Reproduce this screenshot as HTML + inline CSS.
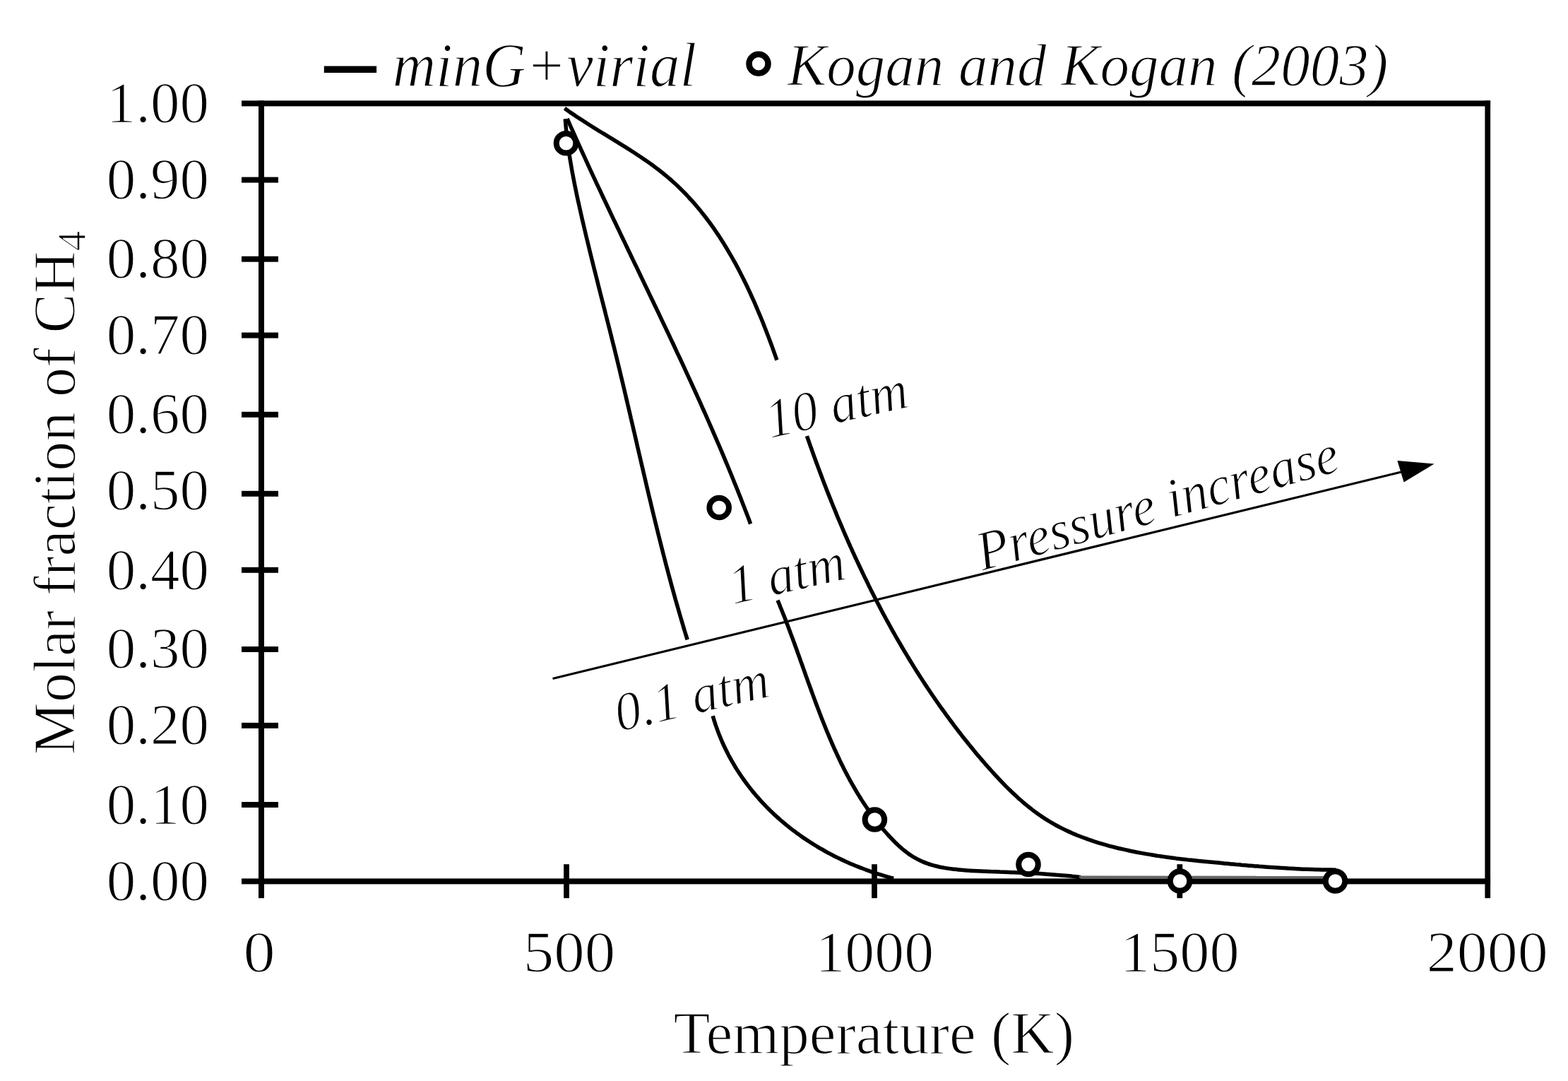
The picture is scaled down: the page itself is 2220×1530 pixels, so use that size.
<!DOCTYPE html>
<html><head><meta charset="utf-8"><title>Molar fraction of CH4 vs Temperature</title>
<style>
html,body{margin:0;padding:0;background:#fff;}
svg{display:block;}
text{font-family:"Liberation Serif","Times New Roman",serif;fill:#000;stroke:#fff;stroke-width:1.5px;}
.it{font-style:italic;stroke-width:1.4px;}
</style></head>
<body>
<svg width="2220" height="1530" viewBox="0 0 2220 1530">
<rect width="2220" height="1530" fill="#fff"/>
<g font-size="83">
<text x="296" y="172.8" text-anchor="end">1.00</text>
<text x="296" y="280.8" text-anchor="end">0.90</text>
<text x="296" y="392.5" text-anchor="end">0.80</text>
<text x="296" y="500.8" text-anchor="end">0.70</text>
<text x="296" y="612.9" text-anchor="end">0.60</text>
<text x="296" y="721.4" text-anchor="end">0.50</text>
<text x="296" y="833.5" text-anchor="end">0.40</text>
<text x="296" y="945.3" text-anchor="end">0.30</text>
<text x="296" y="1053.4" text-anchor="end">0.20</text>
<text x="296" y="1165.6" text-anchor="end">0.10</text>
<text x="296" y="1273.5" text-anchor="end">0.00</text>
<text x="367.2" y="1375" text-anchor="middle" textLength="45.2" lengthAdjust="spacingAndGlyphs">0</text>
<text x="806.0" y="1375" text-anchor="middle" textLength="130.5" lengthAdjust="spacingAndGlyphs">500</text>
<text x="1238.3" y="1375" text-anchor="middle" textLength="167.7" lengthAdjust="spacingAndGlyphs">1000</text>
<text x="1670.3" y="1375" text-anchor="middle" textLength="168.8" lengthAdjust="spacingAndGlyphs">1500</text>
<text x="2105.7" y="1375" text-anchor="middle" textLength="172.0" lengthAdjust="spacingAndGlyphs">2000</text>
</g>
<text x="953.5" y="1491" font-size="85">Temperature (K)</text>
<text font-size="85" transform="translate(106,1068.5) rotate(-90)" textLength="741.8" lengthAdjust="spacingAndGlyphs">Molar fraction of CH<tspan font-size="58" dy="15">4</tspan></text>
<text class="it" x="555.7" y="121.5" font-size="88" textLength="430.4" lengthAdjust="spacingAndGlyphs">minG+virial</text>
<text class="it" x="1115" y="121" font-size="85" textLength="850.3" lengthAdjust="spacingAndGlyphs">Kogan and Kogan (2003)</text>
<text class="it" x="0" y="0" font-size="79" textLength="204.0" lengthAdjust="spacingAndGlyphs" transform="translate(1090.5,620.5) rotate(-12.7)">10 atm</text>
<text class="it" x="0" y="0" font-size="78" textLength="166.6" lengthAdjust="spacingAndGlyphs" transform="translate(1038,855.5) rotate(-12.6)">1 atm</text>
<text class="it" x="0" y="0" font-size="77" textLength="222.6" lengthAdjust="spacingAndGlyphs" transform="translate(876.4,1035.5) rotate(-13)">0.1 atm</text>
<text class="it" x="0" y="0" font-size="79" textLength="529.1" lengthAdjust="spacingAndGlyphs" transform="translate(1390.7,808) rotate(-15.6)">Pressure increase</text>
<g fill="none" stroke="#000" stroke-width="5.5" stroke-linejoin="round" stroke-linecap="butt">
<path d="M799.4,153.3 C800.7,154.2 804.5,156.9 807.0,158.7 C809.6,160.5 812.2,162.2 814.8,164.0 C817.3,165.7 820.0,167.4 822.6,169.1 C825.2,170.9 827.8,172.6 830.5,174.2 C833.2,175.9 835.8,177.6 838.5,179.3 C841.2,180.9 843.9,182.6 846.5,184.3 C849.2,185.9 851.9,187.6 854.6,189.2 C857.3,190.9 860.0,192.5 862.7,194.2 C865.4,195.8 868.1,197.5 870.8,199.2 C873.5,200.8 876.2,202.5 878.9,204.1 C881.6,205.8 884.3,207.5 887.0,209.2 C889.7,210.9 892.4,212.6 895.0,214.3 C897.7,216.0 900.3,217.7 903.0,219.5 C905.6,221.2 908.2,222.9 910.8,224.7 C913.4,226.5 916.0,228.3 918.6,230.1 C921.1,231.9 923.7,233.8 926.2,235.6 C928.7,237.5 931.2,239.4 933.7,241.3 C936.1,243.2 938.6,245.1 941.0,247.1 C943.4,249.1 945.8,251.1 948.2,253.1 C950.5,255.2 952.8,257.2 955.1,259.3 C957.4,261.4 959.7,263.5 961.9,265.7 C964.1,267.9 966.3,270.1 968.5,272.3 C970.7,274.5 972.8,276.7 974.9,279.0 C977.1,281.3 979.1,283.6 981.2,285.9 C983.3,288.2 985.3,290.6 987.3,293.0 C989.3,295.3 991.3,297.7 993.2,300.2 C995.2,302.6 997.1,305.0 999.0,307.5 C1000.9,310.0 1002.8,312.5 1004.6,315.0 C1006.5,317.5 1008.3,320.1 1010.1,322.6 C1011.9,325.2 1013.7,327.8 1015.4,330.4 C1017.2,333.0 1018.9,335.6 1020.6,338.2 C1022.3,340.9 1024.0,343.5 1025.6,346.2 C1027.3,348.9 1028.9,351.6 1030.5,354.3 C1032.1,357.0 1033.7,359.7 1035.3,362.5 C1036.9,365.2 1038.4,368.0 1039.9,370.7 C1041.5,373.5 1043.0,376.3 1044.5,379.1 C1045.9,381.9 1047.4,384.7 1048.8,387.5 C1050.3,390.3 1051.7,393.1 1053.1,396.0 C1054.5,398.8 1055.9,401.7 1057.3,404.5 C1058.7,407.4 1060.0,410.3 1061.4,413.2 C1062.7,416.0 1064.0,418.9 1065.3,421.8 C1066.6,424.7 1067.9,427.6 1069.2,430.5 C1070.4,433.4 1071.7,436.4 1072.9,439.3 C1074.2,442.2 1075.4,445.1 1076.6,448.0 C1077.8,451.0 1079.0,453.9 1080.2,456.8 C1081.3,459.8 1082.5,462.7 1083.7,465.7 C1084.8,468.6 1085.9,471.5 1087.1,474.5 C1088.2,477.4 1089.3,480.4 1090.4,483.3 C1091.5,486.3 1092.6,489.2 1093.7,492.1 C1094.7,495.1 1095.8,498.0 1096.8,500.9 C1097.9,503.9 1099.4,508.3 1100.0,509.7"/>
<path d="M1142.4,617.1 C1142.9,618.5 1144.3,622.4 1145.2,625.0 C1146.1,627.6 1147.0,630.3 1148.0,632.9 C1148.9,635.5 1149.8,638.1 1150.8,640.8 C1151.7,643.4 1152.7,646.0 1153.6,648.6 C1154.6,651.3 1155.5,653.9 1156.5,656.5 C1157.5,659.1 1158.4,661.7 1159.4,664.3 C1160.4,667.0 1161.4,669.6 1162.4,672.2 C1163.3,674.8 1164.3,677.4 1165.3,680.0 C1166.3,682.7 1167.3,685.3 1168.4,687.9 C1169.4,690.5 1170.4,693.1 1171.4,695.7 C1172.4,698.3 1173.5,700.9 1174.5,703.5 C1175.5,706.1 1176.6,708.7 1177.6,711.3 C1178.7,713.9 1179.7,716.5 1180.8,719.1 C1181.8,721.7 1182.9,724.3 1184.0,726.9 C1185.0,729.5 1186.1,732.1 1187.2,734.7 C1188.3,737.3 1189.4,739.9 1190.5,742.4 C1191.6,745.0 1192.7,747.6 1193.8,750.2 C1194.9,752.8 1196.0,755.4 1197.1,757.9 C1198.3,760.5 1199.4,763.1 1200.5,765.7 C1201.7,768.2 1202.8,770.8 1203.9,773.4 C1205.1,775.9 1206.3,778.5 1207.4,781.1 C1208.6,783.6 1209.7,786.2 1210.9,788.7 C1212.1,791.3 1213.3,793.8 1214.5,796.4 C1215.7,798.9 1216.9,801.5 1218.1,804.0 C1219.3,806.6 1220.5,809.1 1221.7,811.6 C1222.9,814.2 1224.1,816.7 1225.4,819.2 C1226.6,821.8 1227.8,824.3 1229.1,826.8 C1230.3,829.4 1231.6,831.9 1232.8,834.4 C1234.1,836.9 1235.4,839.4 1236.6,841.9 C1237.9,844.4 1239.2,846.9 1240.5,849.5 C1241.8,852.0 1243.1,854.5 1244.4,856.9 C1245.7,859.4 1247.0,861.9 1248.3,864.4 C1249.6,866.9 1250.9,869.4 1252.3,871.9 C1253.6,874.3 1254.9,876.8 1256.3,879.3 C1257.6,881.8 1259.0,884.2 1260.4,886.7 C1261.7,889.2 1263.1,891.6 1264.5,894.1 C1265.9,896.5 1267.2,899.0 1268.6,901.4 C1270.0,903.9 1271.4,906.3 1272.9,908.7 C1274.3,911.2 1275.7,913.6 1277.1,916.0 C1278.5,918.4 1280.0,920.9 1281.4,923.3 C1282.9,925.7 1284.3,928.1 1285.8,930.5 C1287.2,932.9 1288.7,935.3 1290.2,937.7 C1291.6,940.1 1293.1,942.5 1294.6,944.9 C1296.1,947.3 1297.6,949.6 1299.1,952.0 C1300.6,954.4 1302.1,956.8 1303.7,959.1 C1305.2,961.5 1306.7,963.9 1308.3,966.2 C1309.8,968.6 1311.4,970.9 1312.9,973.2 C1314.5,975.6 1316.0,977.9 1317.6,980.3 C1319.2,982.6 1320.8,984.9 1322.4,987.2 C1324.0,989.5 1325.6,991.9 1327.2,994.2 C1328.8,996.5 1330.4,998.8 1332.0,1001.1 C1333.7,1003.4 1335.3,1005.6 1337.0,1007.9 C1338.6,1010.2 1340.3,1012.5 1341.9,1014.7 C1343.6,1017.0 1345.3,1019.3 1346.9,1021.5 C1348.6,1023.8 1350.3,1026.0 1352.0,1028.3 C1353.7,1030.5 1355.4,1032.8 1357.1,1035.0 C1358.9,1037.2 1360.6,1039.4 1362.3,1041.7 C1364.1,1043.9 1365.8,1046.1 1367.6,1048.3 C1369.3,1050.5 1371.1,1052.7 1372.9,1054.9 C1374.6,1057.1 1376.4,1059.2 1378.2,1061.4 C1380.0,1063.6 1381.8,1065.7 1383.6,1067.9 C1385.4,1070.1 1387.3,1072.2 1389.1,1074.4 C1390.9,1076.5 1392.8,1078.6 1394.6,1080.8 C1396.5,1082.9 1398.3,1085.0 1400.2,1087.1 C1402.1,1089.2 1403.9,1091.3 1405.8,1093.4 C1407.7,1095.5 1409.6,1097.6 1411.6,1099.7 C1413.5,1101.7 1415.4,1103.8 1417.4,1105.8 C1419.3,1107.8 1421.3,1109.9 1423.2,1111.9 C1425.2,1113.9 1427.2,1115.8 1429.2,1117.8 C1431.2,1119.7 1433.2,1121.7 1435.3,1123.6 C1437.3,1125.5 1439.3,1127.4 1441.4,1129.3 C1443.5,1131.1 1445.6,1133.0 1447.7,1134.8 C1449.8,1136.6 1451.9,1138.4 1454.1,1140.1 C1456.2,1141.9 1458.4,1143.6 1460.6,1145.3 C1462.8,1147.0 1465.0,1148.7 1467.2,1150.3 C1469.5,1151.9 1471.7,1153.5 1474.0,1155.1 C1476.3,1156.6 1478.6,1158.1 1480.9,1159.6 C1483.2,1161.1 1485.6,1162.5 1487.9,1163.9 C1490.3,1165.3 1492.7,1166.7 1495.1,1168.0 C1497.6,1169.3 1500.0,1170.6 1502.5,1171.9 C1504.9,1173.1 1507.4,1174.3 1509.9,1175.5 C1512.4,1176.7 1515.0,1177.8 1517.5,1178.9 C1520.0,1180.0 1522.6,1181.1 1525.2,1182.2 C1527.8,1183.2 1530.4,1184.2 1533.0,1185.2 C1535.6,1186.2 1538.2,1187.1 1540.8,1188.1 C1543.5,1189.0 1546.1,1189.9 1548.8,1190.8 C1551.5,1191.6 1554.1,1192.5 1556.8,1193.3 C1559.5,1194.1 1562.2,1194.9 1564.9,1195.7 C1567.6,1196.4 1570.3,1197.2 1573.0,1197.9 C1575.8,1198.6 1578.5,1199.3 1581.2,1200.0 C1584.0,1200.6 1586.7,1201.3 1589.5,1201.9 C1592.2,1202.6 1595.0,1203.2 1597.8,1203.8 C1600.5,1204.4 1603.3,1204.9 1606.1,1205.5 C1608.8,1206.1 1611.6,1206.6 1614.4,1207.1 C1617.2,1207.6 1620.0,1208.1 1622.8,1208.6 C1625.6,1209.1 1628.4,1209.6 1631.2,1210.0 C1634.0,1210.5 1636.8,1210.9 1639.6,1211.4 C1642.4,1211.8 1645.3,1212.2 1648.1,1212.6 C1650.9,1213.0 1653.7,1213.4 1656.5,1213.8 C1659.4,1214.1 1662.2,1214.5 1665.0,1214.9 C1667.8,1215.2 1670.7,1215.6 1673.5,1215.9 C1676.3,1216.2 1679.1,1216.5 1682.0,1216.9 C1684.8,1217.2 1687.6,1217.5 1690.4,1217.8 C1693.3,1218.1 1696.1,1218.4 1698.9,1218.7 C1701.8,1219.0 1704.6,1219.3 1707.4,1219.5 C1710.2,1219.8 1713.0,1220.1 1715.9,1220.3 C1718.7,1220.6 1721.5,1220.9 1724.3,1221.1 C1727.1,1221.4 1729.9,1221.7 1732.8,1221.9 C1735.6,1222.2 1738.4,1222.4 1741.2,1222.7 C1744.0,1223.0 1746.8,1223.2 1749.6,1223.5 C1752.4,1223.7 1755.1,1223.9 1757.9,1224.2 C1760.7,1224.4 1763.5,1224.7 1766.3,1224.9 C1769.1,1225.1 1771.9,1225.4 1774.7,1225.6 C1777.4,1225.8 1780.2,1226.0 1783.0,1226.3 C1785.8,1226.5 1788.6,1226.7 1791.4,1226.9 C1794.1,1227.1 1796.9,1227.3 1799.7,1227.5 C1802.5,1227.7 1805.2,1227.9 1808.0,1228.1 C1810.8,1228.3 1813.6,1228.4 1816.4,1228.6 C1819.1,1228.8 1821.9,1228.9 1824.7,1229.1 C1827.5,1229.2 1830.3,1229.4 1833.0,1229.5 C1835.8,1229.7 1838.6,1229.8 1841.4,1229.9 C1844.2,1230.1 1847.0,1230.2 1849.7,1230.3 C1852.5,1230.4 1855.3,1230.5 1858.1,1230.6 C1860.9,1230.7 1863.7,1230.8 1866.5,1230.8 C1869.3,1230.9 1872.1,1231.0 1874.9,1231.0 C1877.7,1231.1 1880.5,1231.1 1883.3,1231.1 C1886.1,1231.2 1890.3,1231.2 1891.8,1231.2"/>
<path d="M803.1,168.0 C803.8,169.5 805.8,174.1 807.1,177.1 C808.5,180.1 809.8,183.2 811.2,186.2 C812.6,189.3 813.9,192.3 815.3,195.3 C816.7,198.4 818.0,201.4 819.4,204.4 C820.8,207.5 822.1,210.5 823.5,213.5 C824.9,216.6 826.3,219.6 827.7,222.6 C829.1,225.6 830.4,228.7 831.8,231.7 C833.2,234.7 834.6,237.7 836.0,240.8 C837.4,243.8 838.8,246.8 840.2,249.8 C841.6,252.8 843.0,255.9 844.4,258.9 C845.9,261.9 847.3,264.9 848.7,267.9 C850.1,270.9 851.5,274.0 852.9,277.0 C854.3,280.0 855.8,283.0 857.2,286.0 C858.6,289.0 860.0,292.0 861.5,295.0 C862.9,298.1 864.3,301.1 865.7,304.1 C867.2,307.1 868.6,310.1 870.0,313.1 C871.5,316.1 872.9,319.1 874.3,322.1 C875.8,325.1 877.2,328.1 878.6,331.1 C880.1,334.2 881.5,337.2 883.0,340.2 C884.4,343.2 885.8,346.2 887.3,349.2 C888.7,352.2 890.2,355.2 891.6,358.2 C893.0,361.2 894.5,364.2 895.9,367.2 C897.4,370.2 898.8,373.2 900.3,376.2 C901.7,379.2 903.1,382.2 904.6,385.2 C906.0,388.2 907.5,391.2 908.9,394.2 C910.4,397.2 911.8,400.3 913.2,403.3 C914.7,406.3 916.1,409.3 917.6,412.3 C919.0,415.3 920.4,418.3 921.9,421.3 C923.3,424.3 924.8,427.3 926.2,430.3 C927.6,433.3 929.1,436.3 930.5,439.3 C932.0,442.3 933.4,445.3 934.8,448.3 C936.3,451.4 937.7,454.4 939.1,457.4 C940.5,460.4 942.0,463.4 943.4,466.4 C944.8,469.4 946.3,472.4 947.7,475.4 C949.1,478.5 950.5,481.5 952.0,484.5 C953.4,487.5 954.8,490.5 956.2,493.5 C957.6,496.5 959.0,499.6 960.4,502.6 C961.9,505.6 963.3,508.6 964.7,511.6 C966.1,514.7 967.5,517.7 968.9,520.7 C970.3,523.7 971.7,526.7 973.1,529.8 C974.5,532.8 975.9,535.8 977.3,538.9 C978.7,541.9 980.0,544.9 981.4,547.9 C982.8,551.0 984.2,554.0 985.6,557.0 C986.9,560.1 988.3,563.1 989.7,566.1 C991.1,569.2 992.4,572.2 993.8,575.3 C995.1,578.3 996.5,581.3 997.9,584.4 C999.2,587.4 1000.6,590.5 1001.9,593.5 C1003.3,596.6 1004.6,599.6 1005.9,602.7 C1007.3,605.7 1008.6,608.8 1009.9,611.8 C1011.3,614.9 1012.6,617.9 1013.9,621.0 C1015.2,624.1 1016.5,627.1 1017.9,630.2 C1019.2,633.2 1020.5,636.3 1021.8,639.4 C1023.1,642.4 1024.4,645.5 1025.7,648.6 C1026.9,651.6 1028.2,654.7 1029.5,657.8 C1030.8,660.9 1032.1,664.0 1033.3,667.0 C1034.6,670.1 1035.9,673.2 1037.1,676.3 C1038.4,679.4 1039.6,682.5 1040.9,685.6 C1042.1,688.6 1043.4,691.7 1044.6,694.8 C1045.8,697.9 1047.1,701.0 1048.3,704.1 C1049.5,707.2 1050.7,710.3 1051.9,713.4 C1053.1,716.5 1054.3,719.7 1055.5,722.8 C1056.7,725.9 1057.9,729.0 1059.1,732.1 C1060.3,735.2 1062.0,739.9 1062.6,741.5"/>
<path d="M1101.0,849.6 C1101.4,850.5 1102.6,853.4 1103.4,855.3 C1104.2,857.2 1104.9,859.1 1105.7,861.0 C1106.5,862.9 1107.3,864.9 1108.0,866.8 C1108.8,868.7 1109.6,870.7 1110.4,872.6 C1111.1,874.6 1111.9,876.5 1112.6,878.5 C1113.4,880.4 1114.1,882.4 1114.9,884.3 C1115.6,886.3 1116.4,888.3 1117.1,890.2 C1117.9,892.2 1118.6,894.2 1119.3,896.2 C1120.1,898.1 1120.8,900.1 1121.5,902.1 C1122.3,904.1 1123.0,906.1 1123.7,908.1 C1124.5,910.1 1125.2,912.1 1125.9,914.0 C1126.6,916.0 1127.4,918.0 1128.1,920.0 C1128.8,922.0 1129.5,924.1 1130.2,926.1 C1131.0,928.1 1131.7,930.1 1132.4,932.1 C1133.1,934.1 1133.8,936.1 1134.5,938.1 C1135.3,940.1 1136.0,942.2 1136.7,944.2 C1137.4,946.2 1138.1,948.2 1138.9,950.2 C1139.6,952.2 1140.3,954.3 1141.0,956.3 C1141.7,958.3 1142.5,960.3 1143.2,962.3 C1143.9,964.4 1144.6,966.4 1145.4,968.4 C1146.1,970.4 1146.8,972.4 1147.6,974.5 C1148.3,976.5 1149.0,978.5 1149.8,980.5 C1150.5,982.6 1151.2,984.6 1152.0,986.6 C1152.7,988.6 1153.5,990.6 1154.2,992.6 C1155.0,994.7 1155.7,996.7 1156.5,998.7 C1157.2,1000.7 1158.0,1002.7 1158.8,1004.7 C1159.5,1006.7 1160.3,1008.7 1161.1,1010.7 C1161.9,1012.8 1162.6,1014.8 1163.4,1016.8 C1164.2,1018.8 1165.0,1020.8 1165.8,1022.8 C1166.6,1024.8 1167.4,1026.7 1168.2,1028.7 C1169.0,1030.7 1169.8,1032.7 1170.6,1034.7 C1171.4,1036.7 1172.3,1038.7 1173.1,1040.6 C1173.9,1042.6 1174.8,1044.6 1175.6,1046.6 C1176.4,1048.5 1177.3,1050.5 1178.1,1052.5 C1179.0,1054.4 1179.9,1056.4 1180.7,1058.3 C1181.6,1060.3 1182.5,1062.2 1183.4,1064.2 C1184.3,1066.1 1185.2,1068.1 1186.1,1070.0 C1187.0,1071.9 1187.9,1073.8 1188.8,1075.8 C1189.7,1077.7 1190.7,1079.6 1191.6,1081.5 C1192.5,1083.4 1193.5,1085.3 1194.4,1087.2 C1195.4,1089.1 1196.4,1091.0 1197.3,1092.9 C1198.3,1094.8 1199.3,1096.7 1200.3,1098.5 C1201.3,1100.4 1202.3,1102.3 1203.3,1104.1 C1204.3,1106.0 1205.4,1107.8 1206.4,1109.7 C1207.5,1111.5 1208.5,1113.4 1209.6,1115.2 C1210.6,1117.0 1211.7,1118.9 1212.8,1120.7 C1213.9,1122.5 1215.0,1124.3 1216.1,1126.1 C1217.2,1127.9 1218.3,1129.7 1219.4,1131.5 C1220.6,1133.2 1221.7,1135.0 1222.9,1136.8 C1224.0,1138.5 1225.2,1140.3 1226.4,1142.0 C1227.6,1143.8 1228.8,1145.5 1230.0,1147.2 C1231.2,1149.0 1232.4,1150.7 1233.7,1152.4 C1234.9,1154.1 1236.2,1155.8 1237.5,1157.5 C1238.7,1159.2 1240.0,1160.8 1241.3,1162.5 C1242.6,1164.2 1243.9,1165.8 1245.2,1167.5 C1246.6,1169.1 1247.9,1170.8 1249.3,1172.4 C1250.6,1174.0 1252.0,1175.6 1253.4,1177.2 C1254.8,1178.8 1256.2,1180.4 1257.6,1182.0 C1259.1,1183.6 1260.5,1185.1 1262.0,1186.7 C1263.4,1188.2 1264.9,1189.7 1266.4,1191.2 C1267.9,1192.7 1269.4,1194.2 1271.0,1195.6 C1272.5,1197.1 1274.1,1198.5 1275.6,1199.9 C1277.2,1201.2 1278.8,1202.6 1280.5,1203.9 C1282.1,1205.2 1283.8,1206.5 1285.5,1207.7 C1287.1,1208.9 1288.9,1210.1 1290.6,1211.2 C1292.3,1212.3 1294.1,1213.4 1295.9,1214.4 C1297.7,1215.4 1299.5,1216.4 1301.4,1217.3 C1303.2,1218.2 1305.1,1219.1 1307.0,1219.9 C1309.0,1220.7 1310.9,1221.4 1312.9,1222.1 C1314.8,1222.8 1316.8,1223.5 1318.8,1224.1 C1320.9,1224.7 1322.9,1225.2 1324.9,1225.8 C1327.0,1226.3 1329.1,1226.7 1331.2,1227.2 C1333.3,1227.6 1335.4,1228.0 1337.5,1228.4 C1339.6,1228.8 1341.7,1229.1 1343.9,1229.4 C1346.0,1229.7 1348.2,1230.0 1350.4,1230.3 C1352.5,1230.5 1354.7,1230.7 1356.9,1231.0 C1359.1,1231.2 1361.2,1231.4 1363.4,1231.5 C1365.6,1231.7 1367.8,1231.8 1370.0,1232.0 C1372.2,1232.1 1374.4,1232.3 1376.6,1232.4 C1378.8,1232.5 1381.0,1232.6 1383.2,1232.7 C1385.3,1232.8 1387.5,1232.9 1389.7,1233.0 C1391.9,1233.1 1394.0,1233.2 1396.2,1233.3 C1398.4,1233.4 1400.5,1233.5 1402.7,1233.6 C1404.8,1233.6 1407.0,1233.7 1409.1,1233.8 C1411.3,1233.9 1413.4,1234.0 1415.5,1234.1 C1417.7,1234.1 1419.8,1234.2 1421.9,1234.3 C1424.1,1234.4 1426.2,1234.5 1428.3,1234.6 C1430.4,1234.7 1432.5,1234.7 1434.7,1234.8 C1436.8,1234.9 1438.9,1235.0 1441.0,1235.1 C1443.1,1235.2 1445.2,1235.3 1447.3,1235.4 C1449.5,1235.5 1451.6,1235.5 1453.7,1235.6 C1455.8,1235.7 1457.9,1235.8 1460.0,1236.0 C1462.1,1236.1 1464.2,1236.2 1466.3,1236.3 C1468.4,1236.4 1470.5,1236.5 1472.6,1236.6 C1474.7,1236.8 1476.8,1236.9 1478.9,1237.0 C1481.0,1237.2 1483.2,1237.3 1485.3,1237.4 C1487.4,1237.6 1489.5,1237.7 1491.6,1237.9 C1493.7,1238.1 1495.8,1238.2 1498.0,1238.4 C1500.1,1238.6 1502.2,1238.7 1504.3,1238.9 C1506.4,1239.1 1508.6,1239.3 1510.7,1239.5 C1512.8,1239.7 1515.0,1239.9 1517.1,1240.1 C1519.2,1240.4 1521.4,1240.6 1523.5,1240.8 C1525.7,1241.1 1528.9,1241.4 1530.0,1241.6"/>
<path d="M800.2,168.3 C800.4,170.0 800.8,175.0 801.1,178.4 C801.4,181.7 801.7,185.0 802.1,188.4 C802.4,191.7 802.8,195.0 803.2,198.4 C803.6,201.7 804.1,205.0 804.5,208.3 C805.0,211.6 805.5,215.0 806.0,218.3 C806.5,221.6 807.0,224.9 807.6,228.2 C808.1,231.5 808.7,234.8 809.3,238.1 C809.8,241.4 810.4,244.7 811.1,248.0 C811.7,251.3 812.3,254.6 813.0,257.9 C813.6,261.2 814.3,264.5 815.0,267.7 C815.6,271.0 816.3,274.3 817.0,277.6 C817.7,280.9 818.4,284.2 819.2,287.5 C819.9,290.7 820.6,294.0 821.4,297.3 C822.1,300.6 822.8,303.9 823.6,307.1 C824.3,310.4 825.1,313.7 825.9,317.0 C826.6,320.2 827.4,323.5 828.2,326.8 C828.9,330.1 829.7,333.4 830.5,336.6 C831.3,339.9 832.1,343.2 832.9,346.4 C833.7,349.7 834.5,353.0 835.3,356.3 C836.1,359.5 836.9,362.8 837.7,366.1 C838.5,369.4 839.3,372.6 840.1,375.9 C840.9,379.2 841.8,382.4 842.6,385.7 C843.4,389.0 844.2,392.3 845.1,395.5 C845.9,398.8 846.7,402.1 847.5,405.3 C848.4,408.6 849.2,411.9 850.0,415.2 C850.9,418.4 851.7,421.7 852.5,425.0 C853.4,428.2 854.2,431.5 855.0,434.8 C855.9,438.0 856.7,441.3 857.5,444.6 C858.4,447.9 859.2,451.1 860.0,454.4 C860.8,457.7 861.7,460.9 862.5,464.2 C863.3,467.5 864.1,470.8 865.0,474.0 C865.8,477.3 866.6,480.6 867.4,483.9 C868.2,487.1 869.1,490.4 869.9,493.7 C870.7,497.0 871.5,500.2 872.3,503.5 C873.1,506.8 873.9,510.1 874.7,513.3 C875.5,516.6 876.3,519.9 877.1,523.2 C877.9,526.4 878.6,529.7 879.4,533.0 C880.2,536.3 881.0,539.6 881.8,542.8 C882.6,546.1 883.3,549.4 884.1,552.7 C884.9,556.0 885.7,559.2 886.4,562.5 C887.2,565.8 888.0,569.1 888.7,572.4 C889.5,575.6 890.3,578.9 891.0,582.2 C891.8,585.5 892.6,588.8 893.3,592.1 C894.1,595.3 894.8,598.6 895.6,601.9 C896.4,605.2 897.1,608.5 897.9,611.7 C898.7,615.0 899.4,618.3 900.2,621.6 C900.9,624.9 901.7,628.2 902.4,631.4 C903.2,634.7 904.0,638.0 904.7,641.3 C905.5,644.6 906.2,647.8 907.0,651.1 C907.8,654.4 908.5,657.7 909.3,661.0 C910.1,664.2 910.8,667.5 911.6,670.8 C912.4,674.1 913.1,677.4 913.9,680.6 C914.7,683.9 915.4,687.2 916.2,690.5 C917.0,693.8 917.8,697.0 918.5,700.3 C919.3,703.6 920.1,706.9 920.9,710.1 C921.7,713.4 922.4,716.7 923.2,720.0 C924.0,723.2 924.8,726.5 925.6,729.8 C926.4,733.0 927.2,736.3 928.0,739.6 C928.8,742.9 929.6,746.1 930.4,749.4 C931.2,752.7 932.0,755.9 932.8,759.2 C933.6,762.5 934.5,765.7 935.3,769.0 C936.1,772.3 936.9,775.5 937.8,778.8 C938.6,782.1 939.4,785.3 940.3,788.6 C941.1,791.8 942.0,795.1 942.8,798.4 C943.7,801.6 944.5,804.9 945.4,808.1 C946.2,811.4 947.1,814.7 948.0,817.9 C948.9,821.2 949.7,824.4 950.6,827.7 C951.5,830.9 952.4,834.2 953.3,837.4 C954.2,840.7 955.1,843.9 956.0,847.2 C956.9,850.4 957.8,853.7 958.8,856.9 C959.7,860.1 960.6,863.4 961.6,866.6 C962.5,869.9 963.4,873.1 964.4,876.3 C965.3,879.6 966.3,882.8 967.3,886.1 C968.2,889.3 969.2,892.5 970.2,895.8 C971.2,899.0 972.7,903.8 973.2,905.4"/>
<path d="M1009.2,1013.2 C1009.5,1014.3 1010.5,1017.6 1011.1,1019.7 C1011.8,1021.9 1012.5,1024.0 1013.2,1026.1 C1014.0,1028.3 1014.7,1030.4 1015.5,1032.5 C1016.2,1034.6 1017.0,1036.6 1017.8,1038.7 C1018.6,1040.8 1019.5,1042.8 1020.3,1044.9 C1021.2,1046.9 1022.0,1049.0 1022.9,1051.0 C1023.8,1053.0 1024.7,1055.0 1025.7,1057.0 C1026.6,1059.0 1027.6,1061.0 1028.6,1062.9 C1029.5,1064.9 1030.5,1066.8 1031.5,1068.8 C1032.6,1070.7 1033.6,1072.6 1034.7,1074.5 C1035.7,1076.4 1036.8,1078.3 1037.9,1080.2 C1039.0,1082.1 1040.1,1084.0 1041.2,1085.8 C1042.4,1087.7 1043.5,1089.5 1044.7,1091.3 C1045.9,1093.2 1047.1,1095.0 1048.3,1096.8 C1049.5,1098.6 1050.7,1100.4 1052.0,1102.1 C1053.2,1103.9 1054.5,1105.7 1055.8,1107.4 C1057.0,1109.1 1058.3,1110.9 1059.7,1112.6 C1061.0,1114.3 1062.3,1116.0 1063.7,1117.7 C1065.0,1119.4 1066.4,1121.0 1067.8,1122.7 C1069.1,1124.4 1070.5,1126.0 1072.0,1127.6 C1073.4,1129.3 1074.8,1130.9 1076.3,1132.5 C1077.7,1134.1 1079.2,1135.7 1080.6,1137.2 C1082.1,1138.8 1083.6,1140.4 1085.1,1141.9 C1086.6,1143.4 1088.2,1145.0 1089.7,1146.5 C1091.3,1148.0 1092.8,1149.5 1094.4,1151.0 C1095.9,1152.5 1097.5,1153.9 1099.1,1155.4 C1100.7,1156.8 1102.3,1158.3 1104.0,1159.7 C1105.6,1161.1 1107.2,1162.5 1108.9,1163.9 C1110.5,1165.3 1112.2,1166.7 1113.9,1168.1 C1115.6,1169.4 1117.3,1170.8 1119.0,1172.1 C1120.7,1173.5 1122.4,1174.8 1124.1,1176.1 C1125.9,1177.4 1127.6,1178.7 1129.4,1180.0 C1131.1,1181.2 1132.9,1182.5 1134.7,1183.7 C1136.4,1185.0 1138.2,1186.2 1140.0,1187.4 C1141.8,1188.6 1143.6,1189.8 1145.5,1191.0 C1147.3,1192.2 1149.1,1193.4 1151.0,1194.5 C1152.8,1195.7 1154.7,1196.8 1156.5,1197.9 C1158.4,1199.1 1160.3,1200.2 1162.2,1201.3 C1164.1,1202.3 1166.0,1203.4 1167.9,1204.5 C1169.8,1205.5 1171.7,1206.6 1173.6,1207.6 C1175.5,1208.6 1177.5,1209.7 1179.4,1210.7 C1181.3,1211.7 1183.3,1212.6 1185.3,1213.6 C1187.2,1214.6 1189.2,1215.5 1191.2,1216.5 C1193.1,1217.4 1195.1,1218.3 1197.1,1219.2 C1199.1,1220.1 1201.1,1221.0 1203.1,1221.9 C1205.1,1222.8 1207.1,1223.6 1209.2,1224.5 C1211.2,1225.3 1213.2,1226.1 1215.2,1226.9 C1217.3,1227.8 1219.3,1228.5 1221.4,1229.3 C1223.4,1230.1 1225.5,1230.9 1227.5,1231.6 C1229.6,1232.4 1231.6,1233.1 1233.7,1233.8 C1235.8,1234.5 1237.9,1235.2 1239.9,1235.9 C1242.0,1236.6 1244.1,1237.3 1246.2,1237.9 C1248.3,1238.6 1250.4,1239.2 1252.5,1239.8 C1254.6,1240.4 1256.7,1241.0 1258.8,1241.6 C1260.9,1242.2 1264.1,1243.0 1265.1,1243.3"/>
</g>
<path d="M1528,1241.2 L1890,1241.6" stroke="#666" stroke-width="3.6" fill="none"/>
<line x1="782.5" y1="960.5" x2="1984" y2="668" stroke="#000" stroke-width="3.2"/><polygon points="1978.4,652 2030.6,656.5 1987.6,682.6" fill="#000"/>
<g fill="#000">
<rect x="342.0" y="142.4" width="1768.1" height="8.0"/>
<rect x="342.0" y="1243.4" width="1768.1" height="8.0"/>
<rect x="366.0" y="142.4" width="8.0" height="1128.8"/>
<rect x="2102.4" y="142.4" width="7.7" height="1128.8"/>
<rect x="342.0" y="250.6" width="52.0" height="8.0"/>
<rect x="342.0" y="362.7" width="52.0" height="8.0"/>
<rect x="342.0" y="470.6" width="52.0" height="8.0"/>
<rect x="342.0" y="582.8" width="52.0" height="8.0"/>
<rect x="342.0" y="694.8" width="52.0" height="8.0"/>
<rect x="342.0" y="802.8" width="52.0" height="8.0"/>
<rect x="342.0" y="915.0" width="52.0" height="8.0"/>
<rect x="342.0" y="1022.9" width="52.0" height="8.0"/>
<rect x="342.0" y="1135.0" width="52.0" height="8.0"/>
<rect x="798.1" y="1223.2" width="7.8" height="48.0"/>
<rect x="1234.1" y="1223.2" width="7.8" height="48.0"/>
<rect x="1666.4" y="1223.2" width="7.8" height="48.0"/>
<rect x="458.8" y="93.5" width="74.3" height="9.5"/>
</g>
<g fill="#fff" stroke="#000" stroke-width="8">
<circle cx="801.5" cy="202.7" r="13.8"/>
<circle cx="1018.2" cy="718.5" r="13.8"/>
<circle cx="1238.4" cy="1160" r="13.8"/>
<circle cx="1456" cy="1223.5" r="13.8"/>
<circle cx="1670.5" cy="1247" r="13.8"/>
<circle cx="1890.5" cy="1247" r="13.8"/>
</g>
<circle cx="1074" cy="90.2" r="13.5" fill="#fff" stroke="#000" stroke-width="8.5"/>
</svg>
</body></html>
